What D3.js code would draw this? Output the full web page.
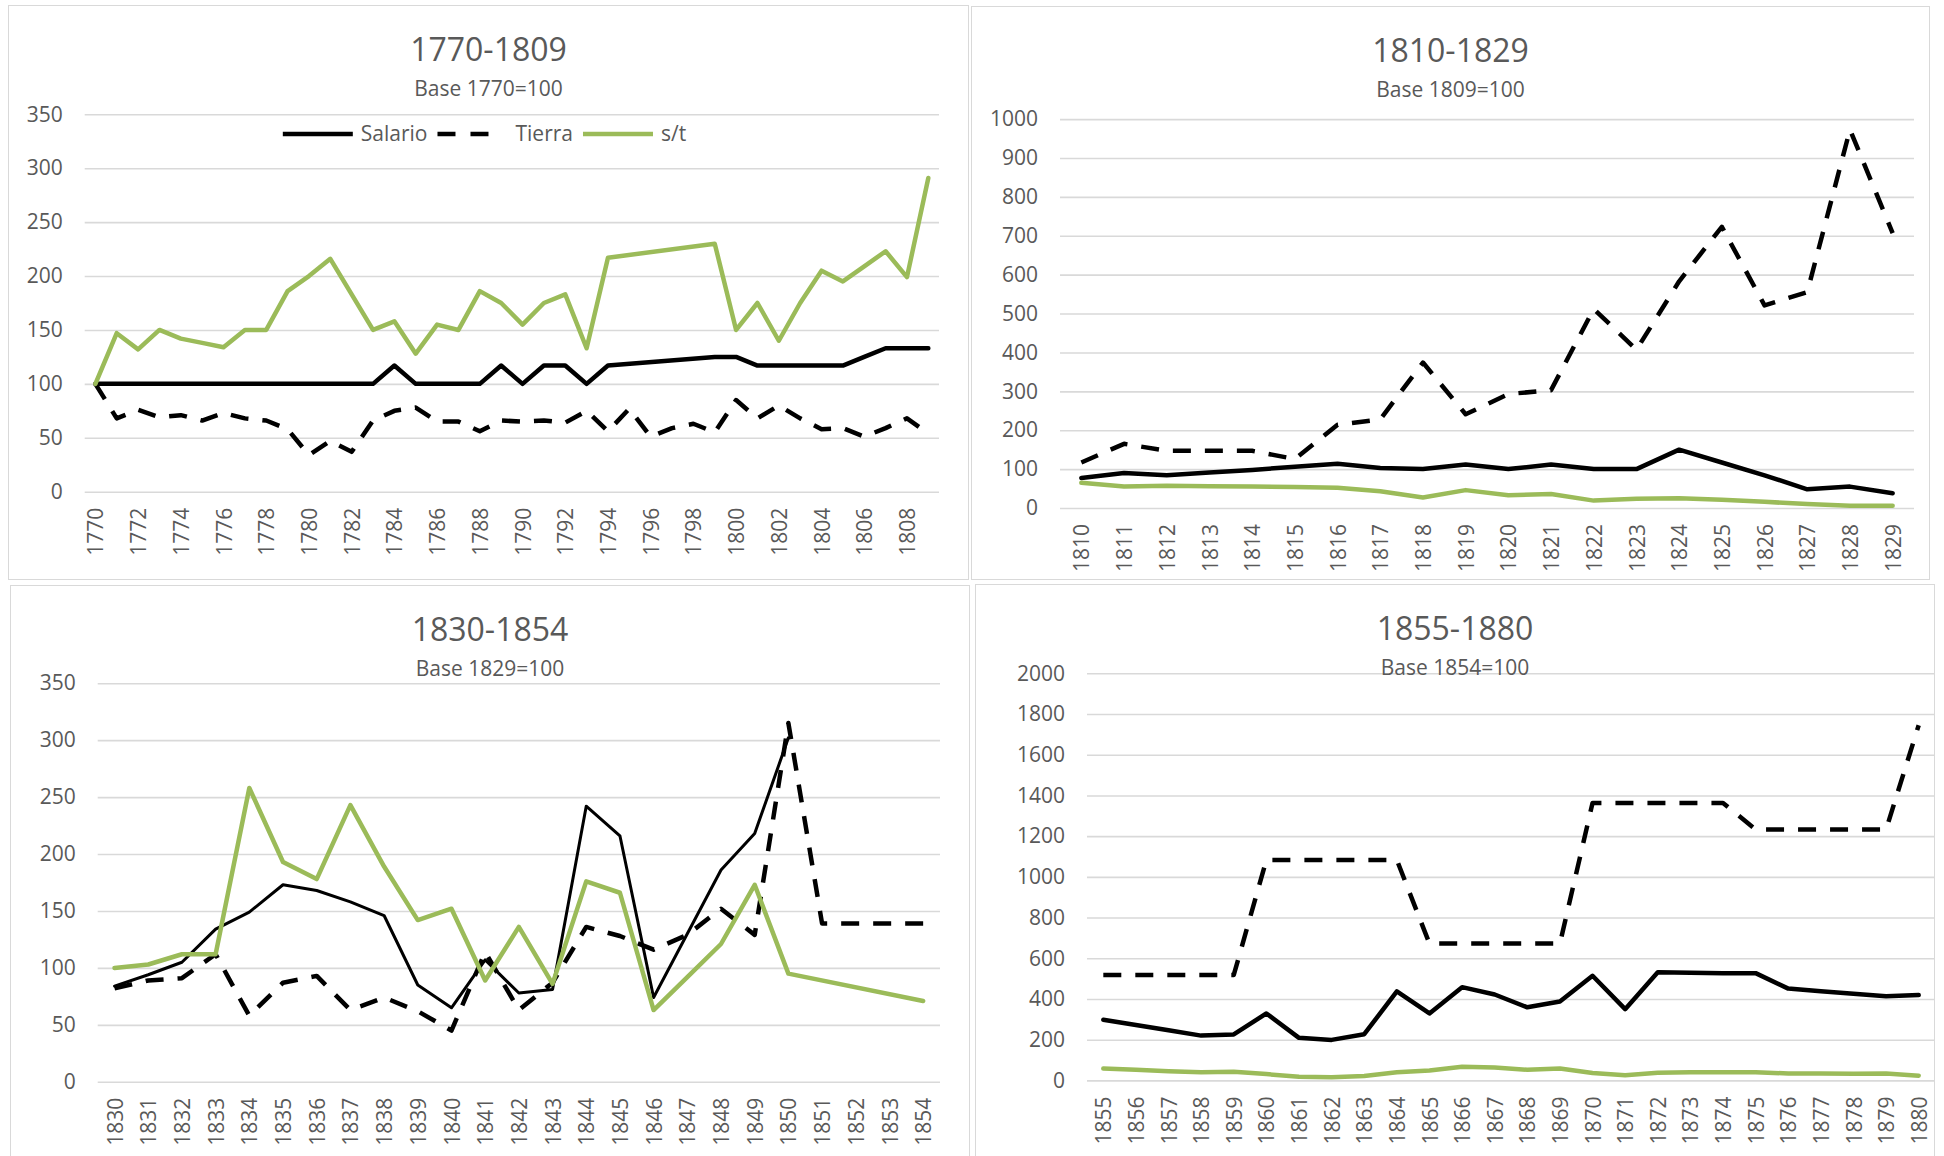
<!DOCTYPE html>
<html>
<head>
<meta charset="utf-8">
<title>Salario, tierra y s/t</title>
<script src="https://cdn.jsdelivr.net/npm/d3@7"></script>
<style>
  body { margin: 0; background: #fff; }
  svg { display: block; }
  text { font-family: 'Open Sans', sans-serif; fill: #595959; }
</style>
</head>
<body>
<svg id="chart" width="1944" height="1156"></svg>
<script>
// --- data (null = no value, line joins over it) ---
const years1 = [1770,1771,1772,1773,1774,1775,1776,1777,1778,1779,1780,1781,1782,1783,1784,1785,1786,1787,1788,1789,
                1790,1791,1792,1793,1794,1795,1796,1797,1798,1799,1800,1801,1802,1803,1804,1805,1806,1807,1808,1809];
const salario1 = [100,100,100,100,100,100,100,100,100,100,100,100,100,100,117,100,100,100,100,117,
                  100,117,117,100,117,null,null,null,null,125,125,117,117,117,117,117,125,133,133,133];
const tierra1 = [100,68,76,69,71,66,73,68,66,58,34,47,37,66,75,78,65,65,56,66,
                 65,66,64,75,56,77,51,59,63,55,85,68,80,68,58,59,51,59,68,54];
const st1 = [100,147,132,150,142,138,134,150,150,186,200,216,183,150,158,128,155,150,186,175,
             155,175,183,133,217,null,null,null,null,230,150,175,140,175,205,195,209,223,199,291];

const years2 = [1810,1811,1812,1813,1814,1815,1816,1817,1818,1819,1820,1821,1822,1823,1824,1825,1826,1827,1828,1829];
const salario2 = [77,90,84,91,98,106,114,103,100,112,100,112,100,100,150,117,84,48,55,38];
const tierra2 = [117,165,147,147,147,126,214,228,374,241,293,303,512,407,583,723,521,555,973,707];
const st2 = [65,55,57,56,55,54,52,43,27,46,33,36,19,24,25,21,16,10,6,6];

const years3 = [1830,1831,1832,1833,1834,1835,1836,1837,1838,1839,1840,1841,1842,1843,1844,1845,1846,1847,1848,1849,
                1850,1851,1852,1853,1854];
const salario3 = [84,94,105,134,149,173,168,158,146,85,65,107,78,81,242,216,74,130,186,218,302,null,null,null,null];
const tierra3 = [82,89,91,112,58,87,93,63,74,62,45,114,63,87,136,128,116,129,152,129,315,139,139,139,139];
const st3 = [100,103,112,112,258,193,178,243,189,142,152,89,136,86,176,166,63,92,121,173,95,null,null,null,71];

const years4 = [1855,1856,1857,1858,1859,1860,1861,1862,1863,1864,1865,1866,1867,1868,1869,1870,1871,1872,1873,1874,
                1875,1876,1877,1878,1879,1880];
const salario4 = [298,272,246,220,226,329,209,199,227,437,329,458,422,359,388,514,350,531,529,527,527,451,438,426,413,419];
const tierra4 = [518,518,518,518,518,1083,1083,1083,1083,1083,672,672,672,672,672,1363,1363,1363,1363,1363,
                 1233,1233,1233,1233,1233,1745];
const st4 = [58,52,45,40,42,31,18,16,22,40,49,67,63,52,58,36,25,38,40,40,40,34,34,33,34,23];

const seriesNames = ['Salario', 'Tierra', 's/t'];

// --- layout of the four chart boxes ---
const panels = [
  { box: [8, 5, 969, 580], plot: [84.7, 939, 114.3, 491.7], yMax: 350, yStep: 50,
    title: '1770-1809', sub: 'Base 1770=100', years: years1, data: [salario1, tierra1, st1], every: 2, legend: true },
  { box: [971, 6, 1930, 580], plot: [1060, 1914, 119.1, 508], yMax: 1000, yStep: 100,
    title: '1810-1829', sub: 'Base 1809=100', years: years2, data: [salario2, tierra2, st2], every: 1 },
  { box: [10, 585, 970, 1160], plot: [97.7, 940, 683.2, 1081.8], yMax: 350, yStep: 50,
    title: '1830-1854', sub: 'Base 1829=100', years: years3, data: [salario3, tierra3, st3], every: 1, thin: true },
  { box: [975, 584, 1935, 1160], plot: [1087, 1935, 673.3, 1080.4], yMax: 2000, yStep: 200,
    title: '1855-1880', sub: 'Base 1854=100', years: years4, data: [salario4, tierra4, st4], every: 1 }
];

const styles = [
  { color: '#000000', dash: null },
  { color: '#000000', dash: '18,14' },
  { color: '#9bbb59', dash: null }
];

const svg = d3.select('#chart');
const defs = svg.append('defs');

panels.forEach((p, pi) => {
  const [bx0, by0, bx1, by1] = p.box;
  const [left, right, top, bottom] = p.plot;

  defs.append('clipPath').attr('id', 'clip' + pi)
    .append('rect').attr('x', bx0).attr('y', by0).attr('width', bx1 - bx0).attr('height', by1 - by0);

  const g = svg.append('g').attr('clip-path', `url(#clip${pi})`);

  g.append('rect')
    .attr('x', bx0).attr('y', by0)
    .attr('width', bx1 - bx0).attr('height', by1 - by0)
    .attr('fill', '#fff')
    .attr('stroke', '#d9d9d9')
    .attr('stroke-width', 2);

  const x = d3.scalePoint().domain(p.years).range([left, right]).padding(0.5);
  const y = d3.scaleLinear().domain([0, p.yMax]).range([bottom, top]);

  // y axis with gridlines
  const yAxis = g.append('g')
    .attr('transform', `translate(${left},0)`)
    .call(d3.axisLeft(y)
      .tickValues(d3.range(0, p.yMax + 1, p.yStep))
      .tickSize(-(right - left))
      .tickPadding(22)
      .tickFormat(d3.format('d')));
  yAxis.select('.domain').remove();
  yAxis.selectAll('line').attr('stroke', '#d9d9d9').attr('stroke-width', 1.6);
  yAxis.selectAll('text').style('font-size', '21px').attr('fill', '#595959');

  // x axis, rotated year labels
  const xAxis = g.append('g')
    .attr('transform', `translate(0,${bottom})`)
    .call(d3.axisBottom(x)
      .tickValues(p.years.filter((d, i) => i % p.every === 0))
      .tickSize(0));
  xAxis.select('.domain').remove();
  xAxis.selectAll('text')
    .attr('transform', 'rotate(-90)')
    .attr('text-anchor', 'end')
    .attr('x', -16)
    .attr('y', 0)
    .attr('dy', '0.36em')
    .style('font-size', '21px')
    .attr('fill', '#595959');

  // titles sit above the gridlines
  const cx = (bx0 + bx1) / 2;
  g.append('text').attr('x', cx).attr('y', by0 + 56)
    .attr('text-anchor', 'middle').style('font-size', '32px').text(p.title);
  g.append('text').attr('x', cx).attr('y', by0 + 91)
    .attr('text-anchor', 'middle').style('font-size', '21px').text(p.sub);

  // series lines
  const line = d3.line()
    .x(d => x(d.year))
    .y(d => y(d.v));

  p.data.forEach((vals, si) => {
    const pts = p.years.map((yr, i) => ({ year: yr, v: vals[i] })).filter(d => d.v !== null);
    const st = styles[si];
    g.append('path')
      .datum(pts)
      .attr('d', line)
      .attr('fill', 'none')
      .attr('stroke', st.color)
      .attr('stroke-width', (p.thin && si === 0) ? 3 : 4.5)
      .attr('stroke-linejoin', 'round')
      .attr('stroke-linecap', st.dash ? 'butt' : 'round')
      .attr('stroke-dasharray', st.dash);
  });

  // legend (first chart only)
  if (p.legend) {
    const lg = g.append('g');
    let lx = 0;
    seriesNames.forEach((name, si) => {
      const st = styles[si];
      lg.append('line')
        .attr('x1', lx).attr('x2', lx + 70).attr('y1', 0).attr('y2', 0)
        .attr('stroke', st.color).attr('stroke-width', 4.5)
        .attr('stroke-dasharray', st.dash ? '18,15,18,19' : null);
      const t = lg.append('text').attr('x', lx + 78).attr('y', 7)
        .style('font-size', '21px').text(name);
      lx += 78 + t.node().getComputedTextLength() + 10;
    });
    const w = lx - 10;
    lg.attr('transform', `translate(${cx - 4 - w / 2},134)`);
  }
});
</script>
</body>
</html>
